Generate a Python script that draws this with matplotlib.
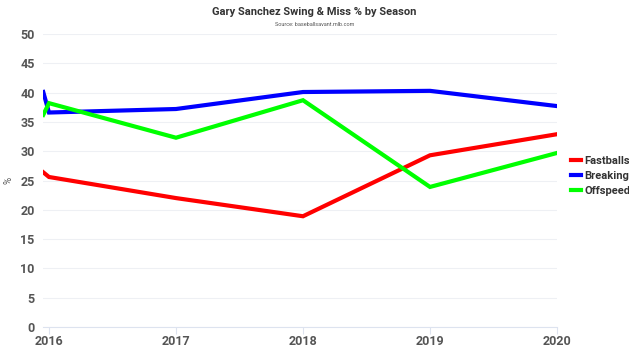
import matplotlib.pyplot as plt

# season positions (first point sits just left of 2016, as in the source chart)
seasons = [2015.955, 2016, 2017, 2018, 2019, 2020]
fastballs = [26.4, 25.6, 22.0, 18.9, 29.3, 32.9]
breaking = [40.1, 36.6, 37.2, 40.1, 40.3, 37.7]
offspeed = [36.2, 38.2, 32.3, 38.7, 23.9, 29.7]

year_ticks = [2016, 2017, 2018, 2019, 2020]
y_ticks = list(range(0, 51, 5))

plt.rcParams['font.family'] = ['Roboto', 'DejaVu Sans']

fig = plt.figure(figsize=(6.29, 3.54), dpi=100)
ax = fig.add_axes([43 / 629, 1 - 327 / 354, (557 - 43) / 629, (327 - 34) / 354])

ax.plot(seasons, fastballs, color='#ff0000', lw=3, label='Fastballs', solid_joinstyle='miter')
ax.plot(seasons, breaking, color='#0000ff', lw=3, label='Breaking', solid_joinstyle='miter')
ax.plot(seasons, offspeed, color='#00ff00', lw=3, label='Offspeed', solid_joinstyle='miter')

ax.set_xlim(2015.953, 2020.0)
ax.set_ylim(0, 50)
ax.set_xticks(year_ticks)
ax.set_xticklabels([str(y) for y in year_ticks])
ax.set_yticks(y_ticks)

ax.grid(axis='y', color='#eef0f4', lw=0.8)
ax.set_axisbelow(True)
for s in ['top', 'right', 'left']:
    ax.spines[s].set_visible(False)
ax.spines['bottom'].set_color('#dde3ef')
ax.tick_params(axis='x', colors='#dde3ef', length=5, labelcolor='#555555', labelsize=9, pad=1)
ax.tick_params(axis='y', length=0, labelcolor='#555555', labelsize=9, pad=6)
for lab in ax.get_xticklabels() + ax.get_yticklabels():
    lab.set_fontweight('bold')

ax.set_ylabel('%', color='#555555', fontsize=7)
ax.yaxis.set_label_coords(-30 / 514, 0.5)

fig.text(0.5, 1 - 12 / 354, 'Gary Sanchez Swing & Miss % by Season', ha='center', va='center',
         fontsize=8, fontweight='bold', color='#333333')
fig.text(0.5, 1 - 24 / 354, 'Source: baseballsavant.mlb.com', ha='center', va='center',
         fontsize=4, color='#555555')

leg = fig.legend(loc='center left', bbox_to_anchor=(561 / 629, 1 - 176 / 354), frameon=False,
                 handlelength=0.9, handletextpad=0.3, labelspacing=0.45, fontsize=8)
for t in leg.get_texts():
    t.set_fontweight('bold')
    t.set_color('#333333')

fig.savefig('out.png', dpi=100)
